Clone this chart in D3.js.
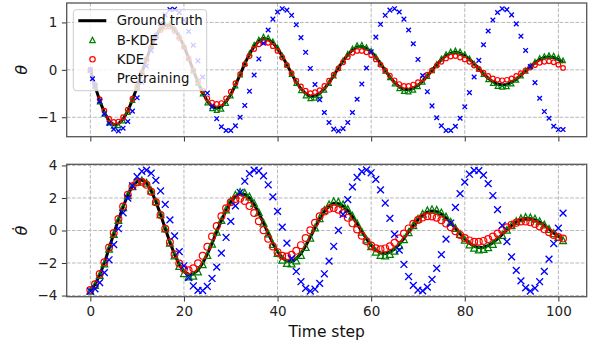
<!DOCTYPE html>
<html>
<head>
<meta charset="utf-8">
<script src="https://cdn.jsdelivr.net/npm/d3@7"></script>
<style>
  html, body { margin: 0; padding: 0; background: #fff; }
  svg { display: block; font-family: "DejaVu Sans", sans-serif; }
</style>
</head>
<body>
<svg id="chart" width="595" height="345"></svg>
<script>
// Time steps shared by both panels
const steps = d3.range(0, 102);

// Angle theta
const thetaTruth = [0.00,-0.34,-0.65,-0.90,-1.08,-1.16,-1.14,-1.04,-0.87,-0.63,-0.36,-0.06,0.23,0.50,0.71,0.87,0.94,0.94,0.85,0.70,0.50,0.25,-0.01,-0.26,-0.48,-0.66,-0.77,-0.81,-0.78,-0.67,-0.52,-0.32,-0.10,0.13,0.33,0.50,0.61,0.66,0.64,0.57,0.45,0.29,0.11,-0.08,-0.26,-0.40,-0.50,-0.56,-0.55,-0.50,-0.40,-0.27,-0.12,0.04,0.19,0.32,0.42,0.48,0.49,0.45,0.38,0.27,0.13,-0.01,-0.15,-0.27,-0.36,-0.41,-0.42,-0.39,-0.33,-0.24,-0.13,-0.01,0.11,0.22,0.30,0.35,0.37,0.35,0.30,0.23,0.13,0.03,-0.08,-0.18,-0.25,-0.30,-0.32,-0.31,-0.26,-0.20,-0.11,-0.02,0.07,0.15,0.22,0.26,0.27,0.26,0.22,0.16];
const thetaBKDE = [0.00,-0.35,-0.67,-0.93,-1.11,-1.18,-1.17,-1.07,-0.89,-0.64,-0.37,-0.06,0.24,0.51,0.73,0.89,0.96,0.96,0.87,0.72,0.51,0.25,-0.02,-0.28,-0.50,-0.69,-0.81,-0.85,-0.82,-0.70,-0.54,-0.33,-0.10,0.14,0.35,0.53,0.64,0.70,0.68,0.60,0.47,0.30,0.11,-0.09,-0.28,-0.43,-0.54,-0.60,-0.59,-0.53,-0.42,-0.28,-0.12,0.04,0.20,0.34,0.45,0.52,0.53,0.48,0.40,0.28,0.13,-0.02,-0.16,-0.29,-0.39,-0.45,-0.46,-0.42,-0.35,-0.25,-0.13,-0.01,0.12,0.24,0.33,0.39,0.41,0.39,0.33,0.24,0.13,0.02,-0.09,-0.20,-0.28,-0.34,-0.36,-0.35,-0.29,-0.21,-0.12,-0.02,0.08,0.17,0.25,0.29,0.31,0.30,0.26,0.20];
const thetaKDE = [0.00,-0.32,-0.62,-0.86,-1.03,-1.10,-1.09,-1.00,-0.84,-0.61,-0.35,-0.06,0.22,0.48,0.69,0.84,0.91,0.91,0.82,0.67,0.48,0.24,-0.01,-0.24,-0.44,-0.60,-0.69,-0.72,-0.70,-0.60,-0.46,-0.28,-0.09,0.12,0.29,0.44,0.54,0.59,0.57,0.50,0.40,0.26,0.10,-0.07,-0.23,-0.35,-0.44,-0.49,-0.47,-0.43,-0.34,-0.23,-0.10,0.03,0.16,0.27,0.36,0.40,0.40,0.37,0.31,0.22,0.11,-0.01,-0.12,-0.22,-0.30,-0.34,-0.34,-0.31,-0.26,-0.19,-0.10,-0.01,0.09,0.17,0.24,0.28,0.29,0.26,0.22,0.17,0.09,0.02,-0.06,-0.13,-0.18,-0.21,-0.22,-0.21,-0.18,-0.13,-0.07,-0.01,0.05,0.10,0.15,0.17,0.18,0.16,0.11,0.04];
const thetaPre = [0.00,-0.34,-0.66,-0.93,-1.13,-1.25,-1.29,-1.23,-1.09,-0.87,-0.59,-0.26,0.08,0.41,0.72,0.98,1.16,1.27,1.28,1.21,1.05,0.81,0.52,0.19,-0.15,-0.49,-0.78,-1.03,-1.20,-1.28,-1.28,-1.18,-1.00,-0.75,-0.45,-0.11,0.23,0.56,0.84,1.07,1.22,1.29,1.26,1.15,0.95,0.68,0.37,0.03,-0.31,-0.63,-0.90,-1.11,-1.25,-1.29,-1.24,-1.11,-0.90,-0.62,-0.30,0.04,0.38,0.69,0.96,1.15,1.26,1.29,1.22,1.07,0.84,0.55,0.22,-0.12,-0.46,-0.76,-1.01,-1.18,-1.28,-1.28,-1.19,-1.02,-0.78,-0.48,-0.15,0.20,0.53,0.82,1.05,1.21,1.29,1.27,1.16,0.97,0.71,0.41,0.07,-0.27,-0.60,-0.88,-1.02,-1.19,-1.26,-1.26];

// Angular velocity theta-dot
const omegaTruth = [-3.68,-3.33,-2.72,-2.00,-1.10,-0.20,0.66,1.45,2.19,2.74,3.02,3.10,2.93,2.45,1.78,0.98,0.12,-0.72,-1.47,-2.10,-2.52,-2.72,-2.67,-2.43,-2.01,-1.45,-0.79,-0.08,0.61,1.24,1.75,2.10,2.26,2.22,2.00,1.60,1.07,0.46,-0.18,-0.78,-1.30,-1.68,-1.88,-1.91,-1.74,-1.41,-0.95,-0.41,0.17,0.71,1.17,1.50,1.67,1.65,1.50,1.23,0.85,0.41,-0.06,-0.51,-0.90,-1.20,-1.38,-1.42,-1.33,-1.14,-0.84,-0.49,-0.09,0.30,0.66,0.94,1.13,1.20,1.16,1.01,0.78,0.48,0.14,-0.20,-0.52,-0.78,-0.96,-1.05,-1.03,-0.93,-0.75,-0.51,-0.24,0.04,0.30,0.52,0.67,0.74,0.72,0.65,0.51,0.33,0.08,-0.15,-0.36,-0.53];
const omegaBKDE = [-3.70,-3.35,-2.74,-2.02,-1.12,-0.22,0.64,1.43,2.17,2.72,3.00,3.08,2.93,2.46,1.80,1.00,0.12,-0.75,-1.53,-2.18,-2.62,-2.83,-2.78,-2.52,-2.08,-1.50,-0.82,-0.08,0.64,1.30,1.83,2.20,2.37,2.32,2.09,1.68,1.12,0.48,-0.19,-0.83,-1.38,-1.79,-2.00,-2.03,-1.85,-1.50,-1.01,-0.44,0.18,0.76,1.25,1.61,1.80,1.77,1.61,1.32,0.91,0.44,-0.07,-0.55,-0.97,-1.30,-1.50,-1.54,-1.44,-1.24,-0.91,-0.53,-0.10,0.33,0.72,1.03,1.24,1.31,1.27,1.11,0.86,0.53,0.15,-0.22,-0.57,-0.86,-1.06,-1.16,-1.14,-1.03,-0.83,-0.57,-0.27,0.04,0.33,0.58,0.75,0.83,0.81,0.73,0.57,0.37,0.10,-0.16,-0.40,-0.60];
const omegaKDE = [-3.66,-3.30,-2.68,-1.95,-1.05,-0.15,0.70,1.48,2.20,2.72,2.97,2.99,2.81,2.38,1.74,0.95,0.10,-0.73,-1.46,-2.03,-2.37,-2.45,-2.32,-2.01,-1.56,-1.00,-0.37,0.27,0.87,1.37,1.74,1.94,1.96,1.81,1.50,1.08,0.57,0.02,-0.51,-0.98,-1.33,-1.55,-1.60,-1.49,-1.25,-0.90,-0.46,0.01,0.47,0.87,1.17,1.34,1.38,1.28,1.08,0.79,0.44,0.06,-0.32,-0.66,-0.92,-1.09,-1.15,-1.10,-0.97,-0.75,-0.48,-0.18,0.13,0.41,0.64,0.80,0.88,0.86,0.78,0.63,0.43,0.20,-0.04,-0.27,-0.46,-0.61,-0.69,-0.69,-0.64,-0.53,-0.37,-0.19,0.01,0.20,0.36,0.48,0.55,0.56,0.50,0.40,0.25,0.07,-0.11,-0.27,-0.40,-0.49];
const omegaPre = [-3.72,-3.59,-3.20,-2.59,-1.80,-0.87,0.11,1.09,1.99,2.75,3.31,3.64,3.71,3.52,3.08,2.43,1.60,0.65,-0.33,-1.30,-2.17,-2.89,-3.41,-3.68,-3.69,-3.44,-2.95,-2.25,-1.39,-0.43,0.56,1.51,2.35,3.03,3.49,3.71,3.66,3.36,2.81,2.07,1.18,0.21,-0.78,-1.71,-2.52,-3.15,-3.56,-3.72,-3.61,-3.25,-2.66,-1.88,-0.97,0.01,0.99,1.90,2.68,3.27,3.62,3.72,3.55,3.14,2.50,1.69,0.75,-0.24,-1.21,-2.09,-2.83,-3.37,-3.66,-3.71,-3.48,-3.01,-2.33,-1.48,-0.53,0.46,1.42,2.27,2.97,3.46,3.70,3.68,3.40,2.88,2.15,1.28,0.31,-0.68,-1.62,-2.45,-3.10,-3.53,-3.72,-3.55,-3.15,-2.51,-1.76,-0.80,0.15,1.07];

// Axis ticks
const xTicks = [0, 20, 40, 60, 80, 100];
const xTickLabels = ["0", "20", "40", "60", "80", "100"];
const thetaTicks = [-1, 0, 1];
const thetaTickLabels = ["\u22121", "0", "1"];
const omegaTicks = [-4, -2, 0, 2, 4];
const omegaTickLabels = ["\u22124", "\u22122", "0", "2", "4"];

const seriesNames = ["Ground truth", "B-KDE", "KDE", "Pretraining"];

const svg = d3.select("#chart");
const left = 66.7, right = 586.7;

const x = d3.scaleLinear().domain([-5.05, 106.05]).range([left, right]);

const panels = [
  { top: 3, bottom: 136.7, domain: [-1.41, 1.41], ticks: thetaTicks, labels: thetaTickLabels,
    series: [thetaTruth, thetaBKDE, thetaKDE, thetaPre], ms: 4.6, ylabel: "\u03b8", xlabels: false },
  { top: 164.3, bottom: 296.7, domain: [-4.07, 4.07], ticks: omegaTicks, labels: omegaTickLabels,
    series: [omegaTruth, omegaBKDE, omegaKDE, omegaPre], ms: 6.8, ylabel: "\u03b8\u0307", xlabels: true }
];

// Marker shapes centred on (0,0), sized like matplotlib markersize
function trianglePath(ms) {
  const h = ms / 2;
  return `M0,${-h}L${-h},${h}L${h},${h}Z`;
}
function crossPath(ms) {
  const h = ms / 2;
  return `M${-h},${-h}L${h},${h}M${-h},${h}L${h},${-h}`;
}

panels.forEach((p, pi) => {
  const y = d3.scaleLinear().domain(p.domain).range([p.bottom, p.top]);
  const g = svg.append("g");
  const w = right - left, h = p.bottom - p.top;

  // dashed grid
  const grid = g.append("g").attr("class", "grid");
  grid.selectAll("line.gx").data(xTicks).join("line")
    .attr("x1", d => x(d)).attr("x2", d => x(d))
    .attr("y1", p.top).attr("y2", p.bottom);
  grid.selectAll("line.gy").data(p.ticks).join("line")
    .attr("x1", left).attr("x2", right)
    .attr("y1", d => y(d)).attr("y2", d => y(d));
  grid.selectAll("line")
    .attr("stroke", "#b0b0b0").attr("stroke-width", 0.9)
    .attr("stroke-dasharray", "3.7,1.6");

  // x axis
  const xAxis = d3.axisBottom(x).tickValues(xTicks)
    .tickFormat((d, i) => p.xlabels ? xTickLabels[i] : "")
    .tickSize(4.8).tickPadding(4.5).tickSizeOuter(0);
  const gx = g.append("g").attr("transform", `translate(0,${p.bottom})`).call(xAxis);
  gx.select(".domain").remove();

  // y axis
  const yAxis = d3.axisLeft(y).tickValues(p.ticks)
    .tickFormat((d, i) => p.labels[i])
    .tickSize(4.8).tickPadding(4.5).tickSizeOuter(0);
  const gy = g.append("g").attr("transform", `translate(${left},0)`).call(yAxis);
  gy.select(".domain").remove();

  [gx, gy].forEach(ax => {
    ax.selectAll(".tick line").attr("stroke", "#333").attr("stroke-width", 1);
    ax.selectAll(".tick text").attr("fill", "#222")
      .style("font-family", "DejaVu Sans").style("font-size", "13.5px");
  });

  // clip to the axes box
  const clipId = "clip" + pi;
  svg.append("clipPath").attr("id", clipId).append("rect")
    .attr("x", left).attr("y", p.top).attr("width", w).attr("height", h);
  const plot = g.append("g").attr("clip-path", `url(#${clipId})`);

  const [truth, bkde, kde, pre] = p.series;

  // ground truth line
  const line = d3.line().x((d, i) => x(steps[i])).y(d => y(d)).curve(d3.curveLinear);
  plot.append("path").datum(truth).attr("d", line)
    .attr("fill", "none").attr("stroke", "#000").attr("stroke-width", 3)
    .attr("stroke-linejoin", "round").attr("stroke-linecap", "butt");

  // B-KDE triangles
  plot.append("g").selectAll("path").data(bkde).join("path")
    .attr("d", trianglePath(p.ms))
    .attr("transform", (d, i) => `translate(${x(steps[i])},${y(d)})`)
    .attr("fill", "none").attr("stroke", "green").attr("stroke-width", 1.25);

  // KDE circles
  plot.append("g").selectAll("circle").data(kde).join("circle")
    .attr("cx", (d, i) => x(steps[i])).attr("cy", d => y(d)).attr("r", p.ms / 2)
    .attr("fill", "none").attr("stroke", "red").attr("stroke-width", 1.2);

  // pretraining crosses
  plot.append("g").selectAll("path").data(pre).join("path")
    .attr("d", crossPath(p.ms))
    .attr("transform", (d, i) => `translate(${x(steps[i])},${y(d)})`)
    .attr("fill", "none").attr("stroke", "blue").attr("stroke-width", 1.35);

  // frame
  g.append("rect").attr("x", left).attr("y", p.top).attr("width", w).attr("height", h)
    .attr("fill", "none").attr("stroke", "#555").attr("stroke-width", 1.3);

  // y label
  g.append("text")
    .attr("transform", `translate(${27},${(p.top + p.bottom) / 2}) rotate(-90)`)
    .attr("text-anchor", "middle")
    .style("font-family", "DejaVu Sans").style("font-style", "italic").style("font-size", "16px")
    .attr("fill", "#111")
    .text(p.ylabel);
});

// x label
svg.append("text").attr("x", (left + right) / 2).attr("y", 337)
  .attr("text-anchor", "middle")
  .style("font-family", "DejaVu Sans").style("font-size", "15.5px").attr("fill", "#111")
  .text("Time step");

// legend
const lg = svg.append("g");
lg.append("rect").attr("x", 73.3).attr("y", 9.7).attr("width", 133.4).attr("height", 81)
  .attr("rx", 3).attr("fill", "#fff").attr("fill-opacity", 0.8)
  .attr("stroke", "#cccccc").attr("stroke-width", 1);
const rowY = [20.7, 40, 59.3, 78.7];
const mx = 92.5, lms = 5.4;
lg.append("line").attr("x1", 78.3).attr("x2", 106.3).attr("y1", rowY[0]).attr("y2", rowY[0])
  .attr("stroke", "#000").attr("stroke-width", 3);
lg.append("path").attr("d", trianglePath(lms)).attr("transform", `translate(${mx},${rowY[1]})`)
  .attr("fill", "none").attr("stroke", "green").attr("stroke-width", 1.25);
lg.append("circle").attr("cx", mx).attr("cy", rowY[2]).attr("r", lms / 2)
  .attr("fill", "none").attr("stroke", "red").attr("stroke-width", 1.2);
lg.append("path").attr("d", crossPath(lms - 0.8)).attr("transform", `translate(${mx},${rowY[3]})`)
  .attr("fill", "none").attr("stroke", "blue").attr("stroke-width", 1.35);
lg.selectAll("text.lab").data(seriesNames).join("text")
  .attr("x", 116.7).attr("y", (d, i) => rowY[i]).attr("dy", "0.36em")
  .style("font-family", "DejaVu Sans").style("font-size", "13.3px").attr("fill", "#111")
  .text(d => d);
</script>
</body>
</html>
